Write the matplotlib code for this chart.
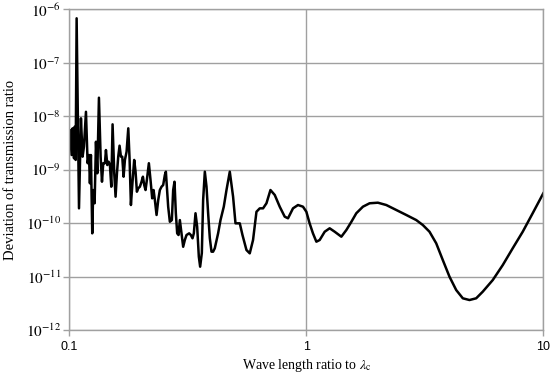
import matplotlib
matplotlib.use("Agg")
import matplotlib.pyplot as plt
from matplotlib.ticker import NullLocator

# wave length ratio to lambda_c
wave_ratio = [
    0.1000, 0.1007, 0.1023, 0.1033, 0.1047, 0.1054, 0.1064, 0.1074, 0.1099, 0.1120,
    0.1138, 0.1153, 0.1176, 0.1195, 0.1211, 0.1222, 0.1234, 0.1250, 0.1262, 0.1279,
    0.1296, 0.1313, 0.1334, 0.1356, 0.1374, 0.1391, 0.1414, 0.1428, 0.1447, 0.1466,
    0.1484, 0.1504, 0.1523, 0.1548, 0.1568, 0.1589, 0.1609, 0.1630, 0.1652, 0.1673,
    0.1695, 0.1717, 0.1745, 0.1774, 0.1797, 0.1820, 0.1849, 0.1879, 0.1904, 0.1929,
    0.1954, 0.1986, 0.2018, 0.2045, 0.2071, 0.2098, 0.2125, 0.2167, 0.2202, 0.2238,
    0.2268, 0.2297, 0.2335, 0.2373, 0.2411, 0.2451, 0.2490, 0.2531, 0.2556, 0.2614,
    0.2657, 0.2709, 0.2744, 0.2780, 0.2816, 0.2853, 0.2890, 0.2928, 0.2975, 0.3024,
    0.3073, 0.3124, 0.3205, 0.3258, 0.3311, 0.3354, 0.3409, 0.3464, 0.3521, 0.3566,
    0.3625, 0.3671, 0.3732, 0.3793, 0.3853, 0.3917, 0.3982, 0.4044, 0.4111, 0.4246,
    0.4346, 0.4487, 0.4606, 0.4756, 0.4911, 0.5027, 0.5241, 0.5380, 0.5592, 0.5774,
    0.5962, 0.6163, 0.6364, 0.6571, 0.6792, 0.7061, 0.7362, 0.7726, 0.8110, 0.8374,
    0.8790, 0.9226, 0.9685, 1.001, 1.033, 1.067, 1.103, 1.139, 1.196, 1.255,
    1.318, 1.406, 1.476, 1.550, 1.626, 1.734, 1.850, 2.005, 2.176, 2.398,
    2.642, 2.911, 3.103, 3.311, 3.534, 3.767, 4.021, 4.291, 4.576, 4.882,
    5.210, 5.553, 6.122, 6.745, 7.430, 8.190, 9.022, 10.0,
]

# deviation of transmission ratio
deviation = [
    3.11e-9, 5.52e-9, 1.88e-9, 5.94e-9, 1.63e-9, 6.36e-9, 1.52e-9, 6.79e-7, 1.89e-10, 9.14e-9,
    1.75e-9, 2.69e-9, 1.21e-8, 1.32e-9, 1.88e-9, 5.56e-10, 1.88e-9, 6.44e-11, 4.16e-10, 2.35e-10,
    3.33e-9, 8.55e-10, 2.22e-8, 1.75e-9, 5.95e-10, 1.32e-9, 1.32e-9, 2.33e-9, 1.22e-9, 1.41e-9,
    1.22e-9, 4.80e-10, 7.05e-9, 8.55e-10, 3.12e-10, 8.55e-10, 1.75e-9, 2.81e-9, 1.75e-9, 1.75e-9,
    7.38e-10, 1.52e-9, 2.17e-9, 5.94e-9, 1.52e-9, 2.18e-10, 5.95e-10, 1.52e-9, 9.16e-10, 3.87e-10,
    4.48e-10, 4.80e-10, 5.95e-10, 7.38e-10, 5.16e-10, 4.16e-10, 6.40e-10, 1.32e-9, 6.40e-10, 2.91e-10,
    4.16e-10, 2.70e-10, 1.42e-10, 2.70e-10, 4.16e-10, 4.80e-10, 5.16e-10, 7.94e-10, 9.16e-10, 2.03e-10,
    1.06e-10, 1.14e-10, 4.16e-10, 5.95e-10, 1.53e-10, 6.44e-11, 5.99e-11, 1.14e-10, 6.44e-11, 3.61e-11,
    4.83e-11, 5.99e-11, 6.44e-11, 5.99e-11, 5.20e-11, 6.44e-11, 1.53e-10, 8.57e-11, 2.35e-11, 1.53e-11,
    2.76e-11, 2.70e-10, 9.16e-10, 4.80e-10, 1.55e-10, 5.26e-11, 2.92e-11, 2.92e-11, 3.38e-11, 6.44e-11,
    1.14e-10, 2.03e-10, 4.16e-10, 9.16e-10, 3.12e-10, 9.91e-11, 9.91e-11, 5.99e-11, 3.14e-11, 2.72e-11,
    4.83e-11, 1.63e-10, 1.89e-10, 1.89e-10, 2.35e-10, 4.16e-10, 3.36e-10, 2.03e-10, 1.32e-10, 1.23e-10,
    1.89e-10, 2.18e-10, 2.03e-10, 1.63e-10, 9.91e-11, 6.44e-11, 4.49e-11, 4.83e-11, 6.90e-11, 8.00e-11,
    6.90e-11, 5.57e-11, 7.43e-11, 1.06e-10, 1.53e-10, 2.03e-10, 2.35e-10, 2.41e-10, 2.18e-10, 1.76e-10,
    1.42e-10, 1.14e-10, 9.21e-11, 6.90e-11, 4.19e-11, 2.04e-11, 9.93e-12, 5.60e-12, 3.92e-12, 3.64e-12,
    3.92e-12, 5.21e-12, 8.61e-12, 1.64e-11, 3.38e-11, 6.90e-11, 1.53e-10, 3.61e-10,
]

x_ticks = [0.1, 1, 10]
x_tick_labels = ["0.1", "1", "10"]
y_exponents = [-12, -11, -10, -9, -8, -7, -6]

plt.rcParams["mathtext.fontset"] = "stix"
grid_color = "#a0a0a0"

fig = plt.figure(figsize=(5.52, 3.74), dpi=100)
ax = fig.add_axes([0.1255, 0.1176, 0.8587, 0.8575])

ax.plot(wave_ratio, deviation, color="black", lw=1.8, solid_joinstyle="round")

ax.set_xscale("log")
ax.set_yscale("log")
ax.set_xlim(0.1, 10)
ax.set_ylim(1e-12, 1e-6)

ax.set_xticks(x_ticks)
ax.set_xticklabels(x_tick_labels, fontfamily="Liberation Sans", fontsize=9)
ax.set_yticks([10.0 ** e for e in y_exponents])
ax.set_yticklabels([r"$10^{%d}$" % e for e in y_exponents], fontsize=11)
ax.xaxis.set_minor_locator(NullLocator())
ax.yaxis.set_minor_locator(NullLocator())

ax.tick_params(axis="both", direction="out", length=4, width=1, color=grid_color, pad=2)
ax.tick_params(axis="x", pad=4)
ax.grid(True, which="major", color=grid_color, lw=1)
ax.set_axisbelow(True)
for sp in ax.spines.values():
    sp.set_color(grid_color)
    sp.set_linewidth(1)

ax.set_xlabel(r"Wave length ratio to $\lambda_{\mathrm{c}}$", fontfamily="Liberation Serif",
              fontsize=10, labelpad=3)
ax.set_ylabel("Deviation of transmission ratio", fontfamily="Liberation Serif",
              fontsize=10.5, labelpad=6)

fig.savefig("out.png", dpi=100)
